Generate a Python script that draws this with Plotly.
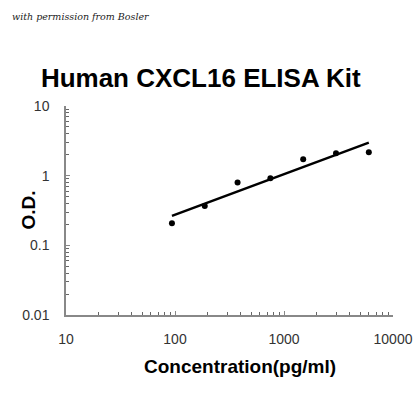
import numpy as np
import plotly.graph_objects as go

# Standard curve data
concentration = [93.75, 187.5, 375, 750, 1500, 3000, 6000]
od = [0.207, 0.367, 0.80, 0.92, 1.72, 2.09, 2.17]

x_ticks = [10, 100, 1000, 10000]
x_labels = ["10", "100", "1000", "10000"]
y_ticks = [0.01, 0.1, 1, 10]
y_labels = ["0.01", "0.1", "1", "10"]

# Power trend line fitted in log-log space
slope, intercept = np.polyfit(np.log10(concentration), np.log10(od), 1)
fit_x = np.array([concentration[0], concentration[-1]])
fit_y = 10 ** (intercept + slope * np.log10(fit_x))

fig = go.Figure()

fig.add_trace(go.Scatter(
    x=fit_x, y=fit_y, mode='lines',
    line=dict(color='black', width=2.5),
    showlegend=False, hoverinfo='skip'
))

fig.add_trace(go.Scatter(
    x=concentration, y=od, mode='markers',
    marker=dict(color='black', size=6),
    showlegend=False
))

arial = "Arial, Liberation Sans, sans-serif"
axis_font = dict(family=arial, size=14, color='#333')

fig.update_layout(
    width=420, height=420,
    margin=dict(l=66, r=27, t=106, b=105),
    paper_bgcolor='white', plot_bgcolor='white',
    title=dict(
        text="<b>Human CXCL16 ELISA Kit</b>",
        x=0.478, xanchor='center', y=0.815, yanchor='middle',
        font=dict(family=arial, size=26, color='black')
    ),
    xaxis=dict(
        type='log', range=[1, 4], automargin=False,
        tickvals=x_ticks, ticktext=x_labels,
        showgrid=False, zeroline=False,
        showline=True, linecolor='#888', linewidth=1.5,
        ticks='inside', ticklen=4, tickcolor='#888',
        minor=dict(ticks='inside', ticklen=3, tickcolor='#666', dtick='D1', showgrid=False),
        tickfont=axis_font, ticklabelstandoff=10,
    ),
    yaxis=dict(
        type='log', range=[-2, 1], automargin=False,
        tickvals=y_ticks, ticktext=y_labels,
        showgrid=False, zeroline=False,
        showline=True, linecolor='#888', linewidth=1.5,
        ticks='inside', ticklen=4, tickcolor='#888',
        minor=dict(ticks='inside', ticklen=3, tickcolor='#666', dtick='D1', showgrid=False),
        tickfont=axis_font, ticklabelstandoff=12,
    ),
)

# Axis titles
fig.add_annotation(
    text="<b>Concentration(pg/ml)</b>", xref='paper', yref='paper',
    x=0.532, y=-0.245, xanchor='center', yanchor='middle', showarrow=False,
    font=dict(family=arial, size=19, color='black')
)
fig.add_annotation(
    text="<b>O.D.</b>", xref='paper', yref='paper', textangle=-90,
    x=-0.116, y=0.5, xanchor='center', yanchor='middle', showarrow=False,
    font=dict(family=arial, size=19, color='black')
)

fig.add_annotation(
    text="<i>with permission from Bosler</i>",
    xref='paper', yref='paper', x=-0.171, y=1.43,
    xanchor='left', yanchor='middle', showarrow=False,
    font=dict(family="DejaVu Serif, serif", size=9.5, color='#222')
)

# Remove the default page margin so the 420x420 figure fills the window
fig.write_html(
    "out.html",
    config={'displayModeBar': False},
    post_script="document.body.style.margin='0';document.body.style.overflow='hidden';"
)
